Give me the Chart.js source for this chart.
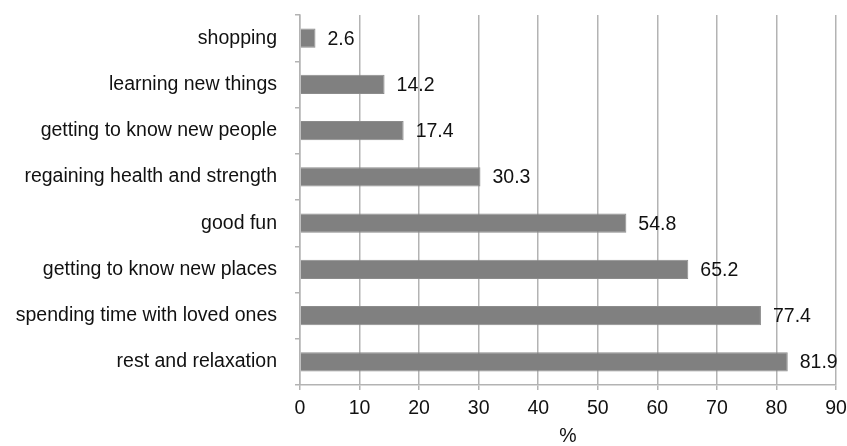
<!DOCTYPE html>
<html>
<head>
<meta charset="utf-8">
<script src="https://cdn.jsdelivr.net/npm/chart.js@4"></script>
<style>
  html, body { margin: 0; padding: 0; background: #fff; }
  #wrap { width: 847px; height: 446px; }
</style>
</head>
<body>
<div id="wrap"><canvas id="chart"></canvas></div>
<script>
// 항목 (위에서 아래 순서)
const categories = [
    "shopping",
    "learning new things",
    "getting to know new people",
    "regaining health and strength",
    "good fun",
    "getting to know new places",
    "spending time with loved ones",
    "rest and relaxation",
];
// 값 (%)
const values = [2.6, 14.2, 17.4, 30.3, 54.8, 65.2, 77.4, 81.9];
const xTicks = [0, 10, 20, 30, 40, 50, 60, 70, 80, 90];

const FONT = "'Liberation Sans', Arial, sans-serif";
const SIZE = 19.5;

// 막대 끝에 값 쓰기
const valueLabels = {
    id: "valueLabels",
    afterDatasetsDraw(chart) {
        const ctx = chart.ctx;
        const meta = chart.getDatasetMeta(0);
        ctx.save();
        ctx.font = SIZE + "px " + FONT;
        ctx.fillStyle = "#111";
        ctx.textAlign = "left";
        ctx.textBaseline = "middle";
        meta.data.forEach((bar, i) => {
            ctx.fillText(values[i].toFixed(1), bar.x + 12, bar.y + 1);
        });
        ctx.restore();
    }
};

new Chart(document.querySelector("#chart"), {
    type: "bar",
    data: {
        labels: categories,
        datasets: [{
            data: values,
            backgroundColor: "#808080",
            borderColor: "#8c8c8c",
            borderWidth: 1,
            barPercentage: 0.84,
            categoryPercentage: 0.5,
        }],
    },
    options: {
        indexAxis: "y",
        responsive: true,
        maintainAspectRatio: false,
        animation: false,
        layout: {padding: {top: 15, right: 11, left: 0, bottom: 0}},
        plugins: {
            legend: {display: false},
            tooltip: {enabled: false},
        },
        scales: {
            x: {
                min: 0, max: 90,
                afterBuildTicks: axis => { axis.ticks = xTicks.map(v => ({value: v})); },
                grid: {color: "#b3b3b3", lineWidth: 1.5, tickLength: 5},
                border: {color: "#b3b3b3", width: 1.5},
                ticks: {color: "#111", font: {family: FONT, size: SIZE}, padding: 7},
                title: {display: true, text: "%", color: "#111", font: {family: FONT, size: SIZE}, padding: {top: 0, bottom: -2}},
                afterFit: axis => { axis.height = 61; axis.paddingLeft = 0; axis.paddingRight = 0; },
            },
            y: {
                grid: {offset: true, drawOnChartArea: false, color: "#b3b3b3", lineWidth: 1.5, tickLength: 5},
                border: {color: "#b3b3b3", width: 1.5},
                ticks: {color: "#111", font: {family: FONT, size: SIZE}, padding: 18},
                afterFit: axis => { axis.width = 300; axis.paddingTop = 0; axis.paddingBottom = 0; },
            },
        },
    },
    plugins: [valueLabels],
});
</script>
</body>
</html>
